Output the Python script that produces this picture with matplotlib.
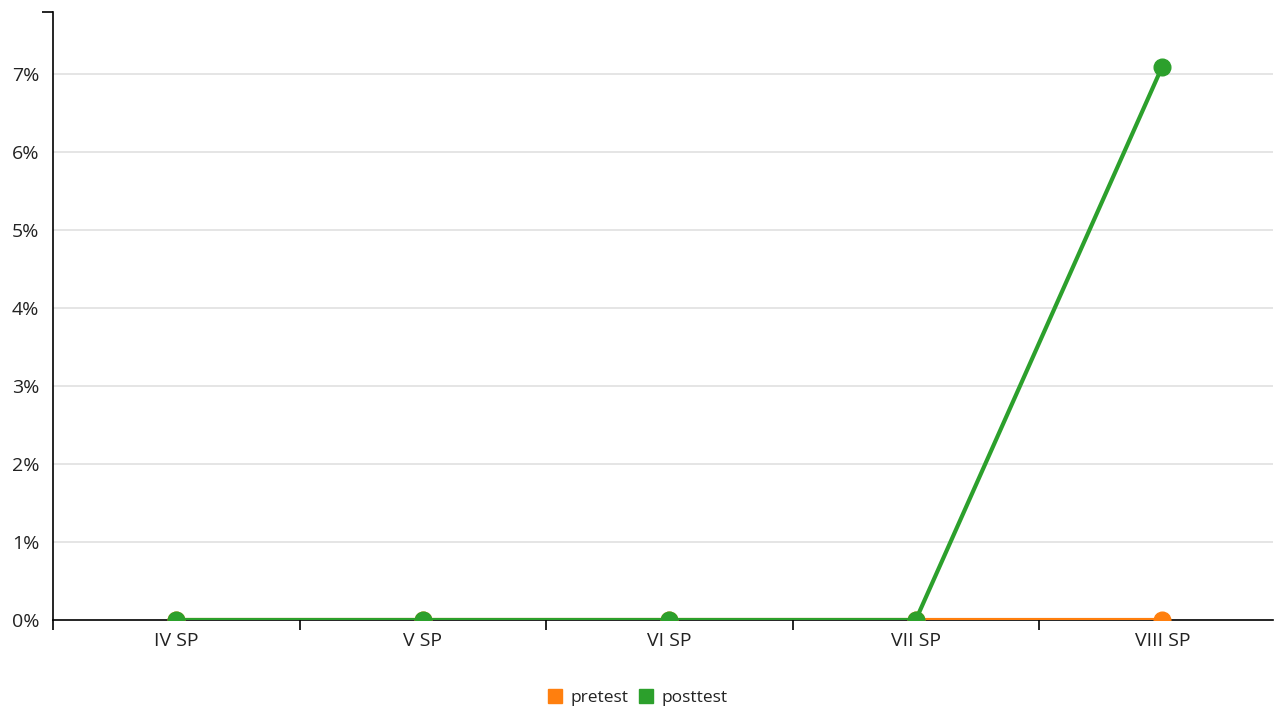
import matplotlib.pyplot as plt
from matplotlib.ticker import FuncFormatter
from matplotlib.lines import Line2D

plt.rcParams['font.family'] = ['Open Sans', 'DejaVu Sans']

# Data
categories = ['IV SP', 'V SP', 'VI SP', 'VII SP', 'VIII SP']
pretest = [0, 0, 0, 0, 0]
posttest = [0, 0, 0, 0, 7.1]
series_names = ['pretest', 'posttest']
colors = ['#ff7f0e', '#2ca02c']
y_max = 7.8

W, H = 1275, 709
fig = plt.figure(figsize=(W / 100, H / 100), dpi=100)
left, right, top, bottom = 53, 1273, 12, 620
ax = fig.add_axes([left / W, 1 - bottom / H, (right - left) / W, (bottom - top) / H])

x = list(range(len(categories)))
band_px = 246.5
ax.set_xlim(-0.5, -0.5 + (right - left) / band_px)
ax.set_ylim(0, y_max)

# Gridlines
for v in range(1, 8):
    ax.axhline(v, color='#e0e0e0', lw=1.2, zorder=0)

# Lines
for vals, name, c in zip([pretest, posttest], series_names, colors):
    ax.plot(x, vals, color=c, lw=3, marker='o', markersize=12, label=name, zorder=3)

# Axes styling
for s in ['top', 'right']:
    ax.spines[s].set_visible(False)
ax.spines['left'].set_linewidth(1.2)
ax.spines['bottom'].set_linewidth(1.2)

ax.set_xticks(x)
ax.set_xticklabels(categories)
ax.set_xticks([i - 0.5 for i in range(len(categories))], minor=True)
ax.tick_params(axis='x', which='major', length=0, pad=9, labelsize=14, colors='#222222')
ax.tick_params(axis='x', which='minor', length=7, width=1.2)

ax.set_yticks(range(0, 8))
ax.yaxis.set_major_formatter(FuncFormatter(lambda v, p: f'{v:.0f}%'))
ax.set_yticks([0, y_max], minor=True)
ax.tick_params(axis='y', which='major', length=0, pad=10, labelsize=14, colors='#222222')
ax.tick_params(axis='y', which='minor', length=8, width=1.2)

# Legend
handles = [Line2D([], [], marker='s', linestyle='none', markersize=10, color=c) for c in colors]
fig.legend(handles, series_names, loc='center', bbox_to_anchor=(0.5, 1 - 698 / H),
           ncol=2, frameon=False, fontsize=12.5, handlelength=0.8, handletextpad=0.5,
           columnspacing=0.6, labelcolor='#222222')

fig.savefig('out.png', dpi=100)
